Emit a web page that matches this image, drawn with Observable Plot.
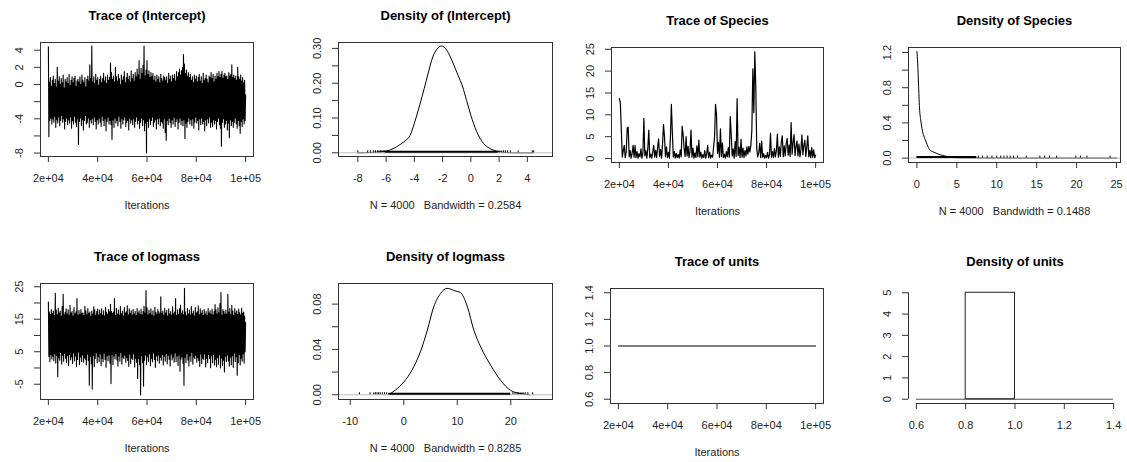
<!DOCTYPE html>
<html>
<head>
<meta charset="utf-8">
<script src="https://cdn.jsdelivr.net/npm/d3@7"></script>
<script src="https://cdn.jsdelivr.net/npm/@observablehq/plot@0.6"></script>
<style>
  html, body { margin: 0; padding: 0; background: #fff; }
  #chart { position: relative; width: 1127px; height: 462px; background: #fff; overflow: hidden; }
  #chart svg { position: absolute; }
</style>
</head>
<body>
<div id="chart"></div>
<script>
// ---- MCMC output, iterations 20000..100000 ----
const iterStart = 20000;
const iterTicks = [20000, 40000, 60000, 80000, 100000];
const iterTickLabels = ["2e+04", "4e+04", "6e+04", "8e+04", "1e+05"];

// (Intercept), every 200th iteration
const interceptTrace = [
  4.4, -6.1, 0.3, -4.2, 0.8, -3.9, -0.2, -4.6, 0.5, -4.0,
  1.0, -4.4, 0.1, -3.7, 0.6, -5.0, -0.3, -4.1, 2.0, -4.5,
  0.4, -3.8, 0.9, -4.8, 0.0, -4.2, 0.7, -3.6, 0.2, -4.4,
  1.1, -4.0, -0.4, -5.2, 0.6, -4.3, 0.3, -3.9, 0.8, -4.7,
  0.1, -4.1, 1.2, -4.5, -0.1, -3.8, 0.5, -5.1, 0.9, -4.2,
  0.2, -4.6, 0.7, -3.7, 1.0, -4.4, -0.2, -4.9, 0.4, -4.0,
  0.6, -7.0, 0.3, -4.3, 0.9, -3.9, 0.0, -4.8, 1.1, -4.1,
  0.5, -5.3, 0.2, -4.2, 0.8, -3.6, -0.3, -4.6, 0.6, -4.4,
  1.0, -3.9, 0.4, -5.0, 2.3, -4.1, 0.7, -4.5, 4.5, -4.0,
  0.3, -4.7, 0.9, -3.8, 0.1, -4.3, 1.2, -5.2, 0.5, -4.1,
  0.8, -4.6, -0.1, -3.9, 0.6, -4.4, 1.0, -4.9, 0.2, -3.7,
  0.7, -4.2, 1.3, -4.8, 0.4, -4.0, 0.9, -5.4, 0.1, -4.3,
  1.1, -3.8, 0.5, -4.6, 0.8, -4.2, 2.5, -4.7, 1.4, -6.4,
  0.6, -4.1, 1.0, -5.0, 0.3, -3.9, 2.0, -4.5, 0.9, -4.2,
  0.4, -4.8, 1.2, -3.7, 0.7, -4.3, 0.0, -5.1, 1.1, -4.0,
  0.5, -4.6, 0.9, -4.1, 1.5, -3.8, 0.2, -4.9, 0.8, -4.4,
  1.3, -4.2, 0.6, -5.3, 1.0, -3.9, 0.3, -4.5, 1.6, -4.1,
  0.7, -4.7, 1.2, -4.0, 0.4, -5.0, 1.4, -4.3, 0.9, -3.8,
  1.8, -4.6, 1.1, -4.2, 2.8, -5.1, 0.6, -4.4, 1.9, -3.9,
  1.3, -4.8, 2.2, -4.1, 4.5, -5.4, 1.0, -4.5, 1.7, -8.0,
  2.8, -4.3, 1.2, -5.0, 1.6, -4.0, 0.8, -4.7, 1.4, -4.2,
  0.9, -3.8, 1.3, -4.9, 0.5, -4.4, 1.0, -4.1, 0.3, -5.2,
  1.1, -4.0, 0.6, -4.6, 0.9, -3.9, 0.2, -4.8, 1.2, -4.3,
  0.7, -4.5, 0.4, -5.1, 1.0, -4.0, 0.8, -5.6, 0.5, -6.5,
  0.9, -4.2, 0.1, -4.7, 1.3, -3.9, 0.6, -4.4, 1.0, -5.0,
  0.3, -4.1, 1.1, -4.6, 0.7, -3.8, 1.2, -4.9, 0.4, -4.3,
  1.5, -4.0, 0.9, -5.2, 1.4, -4.4, 1.8, -3.9, 1.1, -4.7,
  1.6, -4.2, 2.0, -4.8, 3.5, -4.1, 2.4, -6.3, 1.3, -4.5,
  1.7, -5.0, 1.0, -4.3, 1.4, -3.9, 0.8, -4.6, 1.2, -4.1,
  0.5, -4.8, 0.9, -4.0, 0.2, -5.1, 1.1, -4.4, 0.6, -3.8,
  1.0, -4.5, 0.3, -4.2, 0.8, -5.3, 1.2, -4.0, 0.4, -4.7,
  0.9, -3.9, 0.1, -4.6, 1.3, -4.3, 0.5, -5.4, 0.7, -4.1,
  1.1, -4.8, 0.6, -4.0, 0.2, -4.5, 1.0, -3.8, 0.8, -5.0,
  1.4, -4.4, 0.7, -4.9, 1.2, -4.1, 0.3, -4.6, 1.0, -4.2,
  0.6, -5.2, 1.3, -4.3, 0.9, -3.9, 1.5, -4.7, 0.8, -5.1,
  1.2, -7.2, 1.5, -4.4, 0.7, -4.0, 1.1, -5.0, 1.3, -4.6,
  0.9, -4.2, 1.0, -5.3, 0.6, -4.5, 1.4, -6.2, 1.0, -4.1,
  1.2, -4.8, 2.3, -4.3, 0.8, -5.0, 1.1, -4.4, 0.7, -3.9,
  1.0, -4.6, 0.5, -5.1, 2.0, -4.2, 0.9, -4.8, 0.6, -5.7,
  1.1, -4.3, 0.4, -4.9, 0.8, -4.0, 0.2, -4.6, 0.5, -4.2,
  -1.2
];

// logmass, every 200th iteration
const logmassTrace = [
  20.3, 3.5, 17.2, 1.9, 16.5, 4.1, 18.0, 2.8, 16.8, 3.6,
  17.5, 2.2, 16.1, 4.4, 23.0, 1.5, 17.8, 3.9, 16.4, -2.7,
  18.4, 3.2, 16.9, 2.4, 17.5, 4.8, 15.9, 1.2, 18.9, 3.9,
  22.7, 2.1, 16.4, 4.5, 17.1, 3.0, 18.2, 1.7, 16.6, 3.8,
  17.9, 0.8, 16.2, 4.2, 19.3, 2.5, 16.9, 3.4, 17.4, 1.4,
  16.0, 4.6, 18.6, 2.2, 16.7, 3.7, 17.3, 0.5, 21.4, 2.6,
  16.3, 4.9, 17.7, 1.0, 16.5, 3.3, 18.0, 2.0, 16.8, 4.0,
  17.0, 1.8, 16.1, 3.1, 19.0, 2.7, 17.6, 0.9, 16.4, 4.3,
  18.3, 2.3, 16.8, -5.3, 17.2, 3.6, 16.0, 1.3, 17.5, -6.5,
  16.6, 3.9, 18.8, 0.4, 17.9, 2.9, 16.2, 4.7, 17.4, 1.6,
  18.1, 3.5, 16.4, 2.0, 17.8, 4.4, 16.7, 0.7, 18.2, 3.0,
  16.3, 1.9, 17.6, 4.6, 16.0, 2.6, 18.7, 0.2, 17.1, 3.8,
  16.5, 2.2, 18.0, 4.1, 17.3, 1.5, 19.6, -4.8, 17.4, 4.2,
  16.8, 1.1, 17.2, 3.7, 21.4, 2.8, 16.1, 4.5, 18.4, 2.5,
  16.6, 0.6, 17.8, 3.7, 16.3, 2.1, 18.9, 4.8, 16.7, 1.2,
  17.5, 3.4, 16.0, 2.9, 18.6, 4.0, 16.9, 1.8, 17.3, 3.2,
  19.1, 2.3, 16.4, 0.5, 18.2, 4.3, 16.8, 1.4, 17.7, 3.1,
  16.2, 2.6, 18.0, 4.4, 16.6, 0.3, 17.4, 3.0, 16.1, 1.7,
  18.3, -3.2, 16.9, 2.9, 17.6, 1.0, 16.5, -8.3, 18.1, 3.8,
  16.3, 1.6, 17.4, -5.6, 19.0, 2.4, 16.9, 4.1, 23.8, 1.1,
  18.5, 3.5, 16.4, 2.0, 17.8, 4.4, 16.7, 0.7, 18.2, 3.0,
  16.3, 1.9, 17.6, 4.6, 16.0, 2.6, 18.7, 0.2, 17.1, 3.8,
  16.5, 2.2, 18.0, 4.0, 17.3, 1.5, 16.6, 3.3, 21.9, 2.4,
  16.8, 4.2, 17.5, 0.9, 16.2, 3.6, 18.4, 2.1, 16.9, 4.5,
  17.7, 1.3, 16.0, 3.9, 18.2, 2.7, 16.6, 0.6, 17.4, 4.3,
  16.3, 2.5, 18.8, 3.4, 16.7, 1.8, 17.2, 4.7, 21.4, 2.0,
  16.1, 3.7, 17.9, 0.8, 16.5, 4.0, 18.3, -1.0, 19.4, 2.8,
  16.8, 3.5, 17.6, 1.4, 16.4, -5.3, 24.5, 3.3, 17.2, 1.7,
  16.1, 4.5, 18.4, 2.5, 16.6, 0.6, 17.8, 3.7, 16.3, 2.1,
  18.9, 4.8, 16.7, 1.2, 17.5, 3.4, 16.0, 2.9, 18.6, 4.0,
  16.9, 1.8, 17.3, 3.2, 19.1, 2.3, 16.4, 0.5, 18.2, 4.3,
  16.8, 1.4, 17.7, 3.1, 16.2, 2.6, 18.0, 4.4, 16.6, 0.3,
  17.4, 3.0, 16.1, 1.7, 18.3, 4.2, 16.9, 2.9, 17.6, 0.1,
  16.5, 3.8, 18.1, 1.6, 16.3, 4.2, 17.4, 0.9, 19.5, 2.7,
  17.9, 0.4, 16.6, 3.3, 18.5, 1.2, 17.0, 4.1, 19.8, 0.0,
  23.2, 3.1, 16.2, 0.8, 18.0, 2.4, 17.4, -1.2, 16.6, 3.6,
  17.8, 1.9, 16.5, 4.0, 22.7, 2.2, 17.1, 0.6, 18.3, 3.3,
  16.4, 1.0, 19.2, 3.8, 17.5, 0.2, 16.1, 4.6, 18.3, 2.0,
  16.9, 3.5, 17.6, -2.2, 16.5, 1.6, 18.1, 4.2, 17.0, 0.9,
  16.3, 3.0, 18.4, 2.1, 16.8, 4.4, 17.2, 1.5, 16.0, 5.0,
  14.0
];

// Species, every 400th iteration
const speciesTrace = [
  13.7, 12.8, 6.5, 0.3, 1.8, 3.0, 0.2, 1.5, 7.0, 7.2,
  0.4, 1.9, 0.1, 1.2, 3.0, 0.3, 3.0, 0.2, 1.6, 0.1,
  1.1, 0.4, 2.2, 0.1, 1.3, 9.2, 0.6, 1.8, 0.1, 2.4,
  6.5, 0.2, 1.0, 0.1, 1.5, 3.0, 0.3, 1.9, 0.2, 2.6,
  4.5, 0.5, 2.1, 0.1, 3.3, 7.8, 5.0, 0.4, 2.7, 0.2,
  1.4, 0.1, 4.6, 12.4, 6.0, 0.3, 1.6, 0.1, 1.2, 0.2,
  0.9, 0.1, 2.0, 0.4, 7.4, 5.5, 2.3, 0.5, 5.0, 0.6,
  2.8, 0.2, 1.7, 6.5, 0.3, 2.4, 0.1, 1.3, 0.2, 2.9,
  0.4, 4.2, 0.3, 1.5, 0.1, 0.9, 0.2, 1.8, 0.1, 1.1,
  3.0, 0.2, 1.4, 0.1, 0.8, 0.3, 2.6, 5.0, 12.4, 10.0,
  1.2, 3.7, 0.3, 6.8, 0.5, 3.6, 0.2, 1.0, 0.1, 1.6,
  0.4, 2.5, 0.3, 9.6, 5.4, 0.6, 2.2, 0.1, 3.9, 0.5,
  13.7, 0.7, 2.6, 0.2, 4.4, 0.3, 2.4, 0.2, 1.9, 0.6,
  2.7, 1.0, 2.8, 1.5, 3.0, 6.5, 20.5, 10.5, 24.4, 16.5,
  2.2, 0.4, 1.3, 3.5, 0.2, 4.0, 0.3, 1.1, 0.1, 0.7,
  0.2, 1.4, 0.1, 0.9, 5.8, 0.3, 1.6, 0.2, 2.3, 0.4,
  1.8, 5.6, 0.3, 2.7, 0.5, 3.8, 5.2, 0.4, 2.9, 0.6,
  3.4, 4.6, 0.8, 3.1, 0.5, 8.2, 1.0, 3.6, 5.5, 0.7,
  2.8, 4.0, 0.6, 3.3, 0.4, 2.1, 5.4, 0.9, 3.0, 4.2,
  0.5, 2.6, 5.2, 0.4, 1.9, 0.2, 2.5, 0.3, 2.0, 0.2,
  0.8
];

const unitsIter = [20000, 100000];
const unitsTrace = [1, 1];

// ---- kernel density estimates ----
const interceptDensX = [-8.0, -7.0, -6.0, -5.5, -5.0, -4.6, -4.3, -4.0, -3.6, -3.3, -3.0, -2.7, -2.4, -2.1, -1.8, -1.5, -1.2, -0.9, -0.6, -0.3, 0.0, 0.4, 0.8, 1.2, 1.6, 2.0, 2.5, 3.0, 4.4];
const interceptDensY = [0.000, 0.001, 0.005, 0.012, 0.024, 0.036, 0.050, 0.085, 0.140, 0.185, 0.232, 0.275, 0.298, 0.307, 0.300, 0.280, 0.252, 0.222, 0.192, 0.150, 0.108, 0.062, 0.032, 0.016, 0.008, 0.003, 0.001, 0.000, 0.000];
const interceptRugCore = [-6.05, 1.95];
const interceptRugTails = [-8.0, -7.3, -7.1, -6.9, -6.75, -6.6, -6.5, -6.4, -6.3, -6.2, -6.1, 2.0, 2.15, 2.3, 2.45, 2.6, 2.8, 3.35, 4.35, 4.45];

const speciesDensX = [0, 0.1, 0.2, 0.33, 0.5, 0.63, 0.8, 1.05, 1.3, 1.59, 1.8, 2.09, 2.5, 2.93, 3.4, 3.76, 4.3, 5, 6, 8, 12, 25];
const speciesDensY = [1.21, 1.08, 0.85, 0.57, 0.42, 0.34, 0.27, 0.21, 0.15, 0.095, 0.08, 0.069, 0.052, 0.038, 0.026, 0.019, 0.010, 0.004, 0.002, 0.001, 0, 0];
const speciesRugCore = [0, 7.5];
const speciesRugTails = [7.7, 8.2, 8.8, 9.4, 10.0, 10.5, 10.9, 11.3, 11.7, 12.1, 12.6, 13.7, 15.4, 16.0, 16.6, 17.5, 19.9, 20.5, 21.3, 24.2];

const logmassDensX = [-2.5, -1.5, 0, 1.5, 3.1, 4.4, 5.6, 6.9, 8.1, 8.75, 9.5, 10.6, 11.2, 11.9, 13.1, 14.4, 16.25, 18.1, 20, 21.9, 23.5];
const logmassDensY = [0.001, 0.0044, 0.0112, 0.0215, 0.0378, 0.057, 0.0776, 0.0895, 0.0939, 0.0933, 0.0918, 0.0903, 0.086, 0.0776, 0.057, 0.042, 0.026, 0.0127, 0.0038, 0.001, 0];
const logmassRugCore = [-2.8, 20.0];
const logmassRugTails = [-8.3, -6.3, -5.6, -5.3, -5.0, -4.7, -4.4, -4.0, -3.6, -3.2, 20.4, 20.8, 21.2, 21.5, 21.9, 22.3, 22.7, 23.2, 24.1];

const unitsBinX1 = [0.8];
const unitsBinX2 = [1.0];
const unitsBinDensity = [5];
const unitsSupport = [0.6, 1.4];

// ---- styling and layout ----
const FONT = '"Liberation Sans", Arial, Helvetica, sans-serif';
const INK = "#1e1e1e";
const AXIS = "#333";
const colX = [0, 282, 564, 846];
const colW = [282, 282, 282, 281];
const rowY = [0, 231];
const rowH = 231;

// samples are evenly thinned over the 20000..100000 window
const traceRows = (vals) => {
  const step = 80000 / (vals.length - 1);
  return vals.map((v, i) => ({iter: iterStart + i * step, v}));
};
const zip = (xs, ys) => xs.map((x, i) => ({x, y: ys[i]}));
const labelled = (ticks, labels) => ticks.map((v, i) => ({v, s: labels[i]})).filter((d) => d.s !== "");

function panel(o) {
  const cx = colX[o.col], cy = rowY[o.row], cw = colW[o.col], ch = rowH;
  const [L, T, R, B] = o.box;
  const marks = [];
  marks.push(...o.marks);
  if (o.frame !== false) marks.push(Plot.frame({stroke: AXIS}));
  marks.push(Plot.axisX(o.xTicks, {tickSize: 6, tickFormat: () => "", stroke: AXIS, label: null}));
  marks.push(Plot.axisY(o.yTicks, {tickSize: 6, tickFormat: () => "", stroke: AXIS, label: null}));
  marks.push(Plot.text(labelled(o.xTicks, o.xLabels), {
    x: "v", text: "s", frameAnchor: "bottom", dy: 22, lineAnchor: "middle", fontSize: 11, fill: INK
  }));
  marks.push(Plot.text(labelled(o.yTicks, o.yLabels), {
    y: "v", text: "s", frameAnchor: "left", dx: -21, rotate: -90, textAnchor: "middle", lineAnchor: "middle", fontSize: 11, fill: INK
  }));
  marks.push(Plot.text([o.title], {
    text: (d) => d, frameAnchor: "top", dy: -27, lineAnchor: "middle", fontSize: 13, fontWeight: "bold", fill: "#000"
  }));
  if (o.sub) marks.push(Plot.text([o.sub], {
    text: (d) => d, frameAnchor: "bottom", dy: 49, lineAnchor: "middle", fontSize: 11, fill: INK
  }));
  const svg = Plot.plot({
    width: cw, height: ch,
    marginLeft: L - cx, marginTop: T - cy, marginRight: cx + cw - R, marginBottom: cy + ch - B,
    x: {domain: o.xDomain, label: null},
    y: {domain: o.yDomain, label: null},
    style: {fontFamily: FONT, fontSize: "11px", color: INK, background: "transparent", overflow: "visible"},
    marks
  });
  svg.style.left = cx + "px";
  svg.style.top = cy + "px";
  document.getElementById("chart").appendChild(svg);
}

function traceMarks(vals, strokeWidth) {
  return [Plot.line(traceRows(vals), {x: "iter", y: "v", stroke: "#000", strokeWidth})];
}

function densityMarks(xs, ys, core, tails, yDomain, box) {
  const rugH = (yDomain[1] - yDomain[0]) * 2 / (box[3] - box[1]);
  return [
    Plot.line(zip(xs, ys), {x: "x", y: "y", stroke: "#000", strokeWidth: 1, curve: "monotone-x"}),
    Plot.ruleY([0], {stroke: "#bebebe"}),
    Plot.ruleY([0], {x1: core[0], x2: core[1], stroke: "#000", strokeWidth: 2, dy: -1}),
    Plot.ruleX(tails, {x: (d) => d, y1: 0, y2: rugH, stroke: "#000", strokeWidth: 1})
  ];
}

// Trace of (Intercept)
panel({
  row: 0, col: 0, box: [40, 42, 253, 156],
  title: "Trace of (Intercept)", sub: "Iterations",
  xDomain: [16800, 103200], yDomain: [-8.4, 4.9],
  xTicks: iterTicks, xLabels: iterTickLabels,
  yTicks: [-8, -6, -4, -2, 0, 2, 4], yLabels: ["-8", "", "-4", "", "0", "2", "4"],
  marks: traceMarks(interceptTrace, 1.1)
});

// Density of (Intercept)
{
  const box = [338, 42, 552, 156], yDomain = [-0.0106, 0.317];
  panel({
    row: 0, col: 1, box,
    title: "Density of (Intercept)", sub: "N = 4000\u00a0\u00a0\u00a0Bandwidth = 0.2584",
    xDomain: [-9.37, 5.78], yDomain,
    xTicks: [-8, -6, -4, -2, 0, 2, 4], xLabels: ["-8", "-6", "-4", "-2", "0", "2", "4"],
    yTicks: [0, 0.05, 0.1, 0.15, 0.2, 0.25, 0.3], yLabels: ["0.00", "", "0.10", "", "0.20", "", "0.30"],
    marks: densityMarks(interceptDensX, interceptDensY, interceptRugCore, interceptRugTails, yDomain, box)
  });
}

// Trace of Species
panel({
  row: 0, col: 2, box: [611, 47, 823, 162],
  title: "Trace of Species", sub: "Iterations",
  xDomain: [16800, 103200], yDomain: [-0.9, 25.4],
  xTicks: iterTicks, xLabels: iterTickLabels,
  yTicks: [0, 5, 10, 15, 20, 25], yLabels: ["0", "5", "10", "15", "20", "25"],
  marks: traceMarks(speciesTrace, 1.2)
});

// Density of Species
{
  const box = [908, 47, 1120, 162], yDomain = [-0.05, 1.257];
  panel({
    row: 0, col: 3, box,
    title: "Density of Species", sub: "N = 4000\u00a0\u00a0\u00a0Bandwidth = 0.1488",
    xDomain: [-1.05, 25.5], yDomain,
    xTicks: [0, 5, 10, 15, 20, 25], xLabels: ["0", "5", "10", "15", "20", "25"],
    yTicks: [0, 0.2, 0.4, 0.6, 0.8, 1.0, 1.2], yLabels: ["0.0", "", "0.4", "", "0.8", "", "1.2"],
    marks: densityMarks(speciesDensX, speciesDensY, speciesRugCore, speciesRugTails, yDomain, box)
  });
}

// Trace of logmass
panel({
  row: 1, col: 0, box: [40, 283, 253, 399],
  title: "Trace of logmass", sub: "Iterations",
  xDomain: [16800, 103200], yDomain: [-9.7, 26],
  xTicks: iterTicks, xLabels: iterTickLabels,
  yTicks: [-5, 0, 5, 10, 15, 20, 25], yLabels: ["-5", "", "5", "", "15", "", "25"],
  marks: traceMarks(logmassTrace, 1.1)
});

// Density of logmass
{
  const box = [338, 283, 552, 399], yDomain = [-0.0042, 0.0982];
  panel({
    row: 1, col: 1, box,
    title: "Density of logmass", sub: "N = 4000\u00a0\u00a0\u00a0Bandwidth = 0.8285",
    xDomain: [-12.2, 27.8], yDomain,
    xTicks: [-10, 0, 10, 20], xLabels: ["-10", "0", "10", "20"],
    yTicks: [0, 0.02, 0.04, 0.06, 0.08], yLabels: ["0.00", "", "0.04", "", "0.08"],
    marks: densityMarks(logmassDensX, logmassDensY, logmassRugCore, logmassRugTails, yDomain, box)
  });
}

// Trace of units
panel({
  row: 1, col: 2, box: [610, 288, 823, 403],
  title: "Trace of units", sub: "Iterations",
  xDomain: [16800, 103200], yDomain: [0.568, 1.432],
  xTicks: iterTicks, xLabels: iterTickLabels,
  yTicks: [0.6, 0.8, 1.0, 1.2, 1.4], yLabels: ["0.6", "0.8", "1.0", "1.2", "1.4"],
  marks: [Plot.line(unitsIter.map((x, i) => ({x, v: unitsTrace[i]})), {x: "x", y: "v", stroke: "#000", strokeWidth: 1})]
});

// Density of units (discrete values: histogram, open axes)
{
  const xDomain = [0.568, 1.432], yDomain = [-0.2, 5.2];
  const bins = unitsBinX1.map((x1, i) => ({x1, x2: unitsBinX2[i], d: unitsBinDensity[i]}));
  panel({
    row: 1, col: 3, box: [908, 288, 1121, 403], frame: false,
    title: "Density of units",
    xDomain, yDomain,
    xTicks: [0.6, 0.8, 1.0, 1.2, 1.4], xLabels: ["0.6", "0.8", "1.0", "1.2", "1.4"],
    yTicks: [0, 1, 2, 3, 4, 5], yLabels: ["0", "1", "2", "3", "4", "5"],
    marks: [
      Plot.ruleY([0], {x1: unitsSupport[0], x2: unitsSupport[1], stroke: "#555"}),
      Plot.rect(bins, {x1: "x1", x2: "x2", y1: 0, y2: "d", fill: "none", stroke: "#222"}),
      Plot.ruleX([xDomain[0]], {y1: 0, y2: 5, stroke: AXIS}),
      Plot.ruleY([yDomain[0]], {x1: 0.6, x2: 1.4, stroke: AXIS})
    ]
  });
}
</script>
</body>
</html>
